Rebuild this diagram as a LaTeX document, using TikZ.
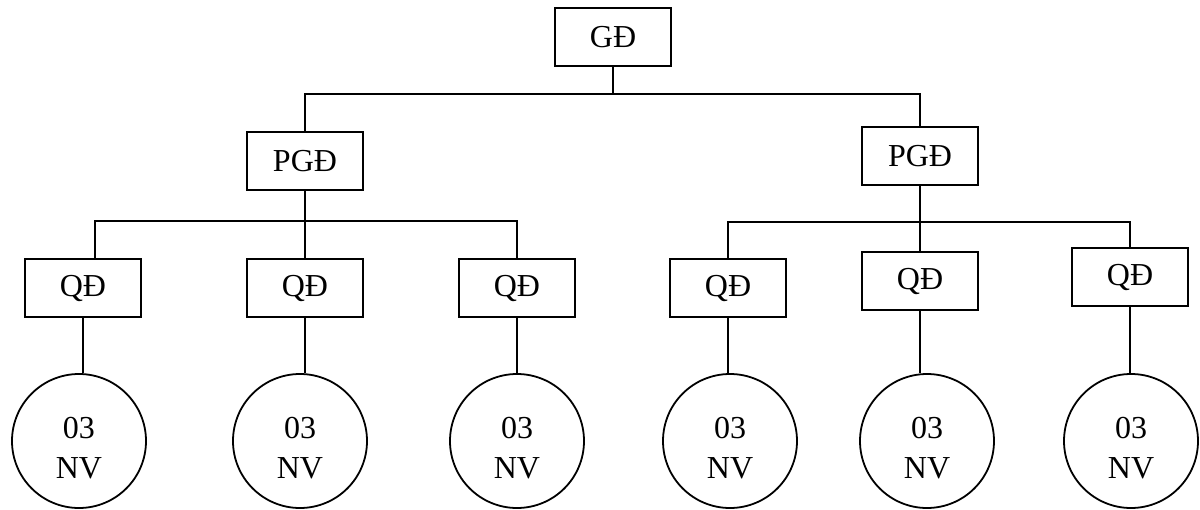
\documentclass[tikz,border=0pt]{standalone}
\usepackage{fontspec}
\setmainfont{Liberation Serif}
\usetikzlibrary{positioning,calc}
\begin{document}
\begin{tikzpicture}[
x=0.5pt,y=-0.5pt,
line width=0.9pt,
mybox/.style={
  draw,
  rectangle,
  minimum width=58pt,
  minimum height=29pt,
  inner sep=0pt,
  font=\fontsize{16}{19}\selectfont},
mycirc/.style={
  draw,
  circle,
  minimum size=67pt,
  inner sep=0pt,
  align=center,
  font=\fontsize{16}{20}\selectfont}
]
\useasboundingbox (0,0) rectangle (1200,509);
\node[mybox] (GD) at (613,37) {GĐ};
\node[mybox] (PL) at (305,161) {PGĐ};
\node[mybox] (PR) at (920,156) {PGĐ};
\foreach \Nodo/\x/\y in {Q1/83/288,Q2/305/288,Q3/517/288,Q4/728/288,Q5/920/281,Q6/1130/277}
  \node[mybox] (\Nodo) at (\x,\y) {QĐ};
\foreach \Nodo/\x in {N1/79,N2/300,N3/517,N4/730,N5/927,N6/1131}
  \node[mycirc] (\Nodo) at (\x,441) {\rule{0pt}{18pt}03\\NV};
% bus lines
\coordinate (T) at (613,94);
\coordinate (L) at (305,221);
\coordinate (R) at (920,222);
\draw (GD) -- (T);
\draw (PL) |- (T) -| (PR);
\draw (PL) -- (Q2);
\draw ([xshift=6pt]Q1.north) |- (L) -| (Q3);
\draw (PR) -- (Q5);
\draw (Q4) |- (R) -| (Q6);
\foreach \i in {1,...,6}
  \draw (Q\i.south) -- (Q\i.south |- N\i.north);
\end{tikzpicture}
\end{document}
